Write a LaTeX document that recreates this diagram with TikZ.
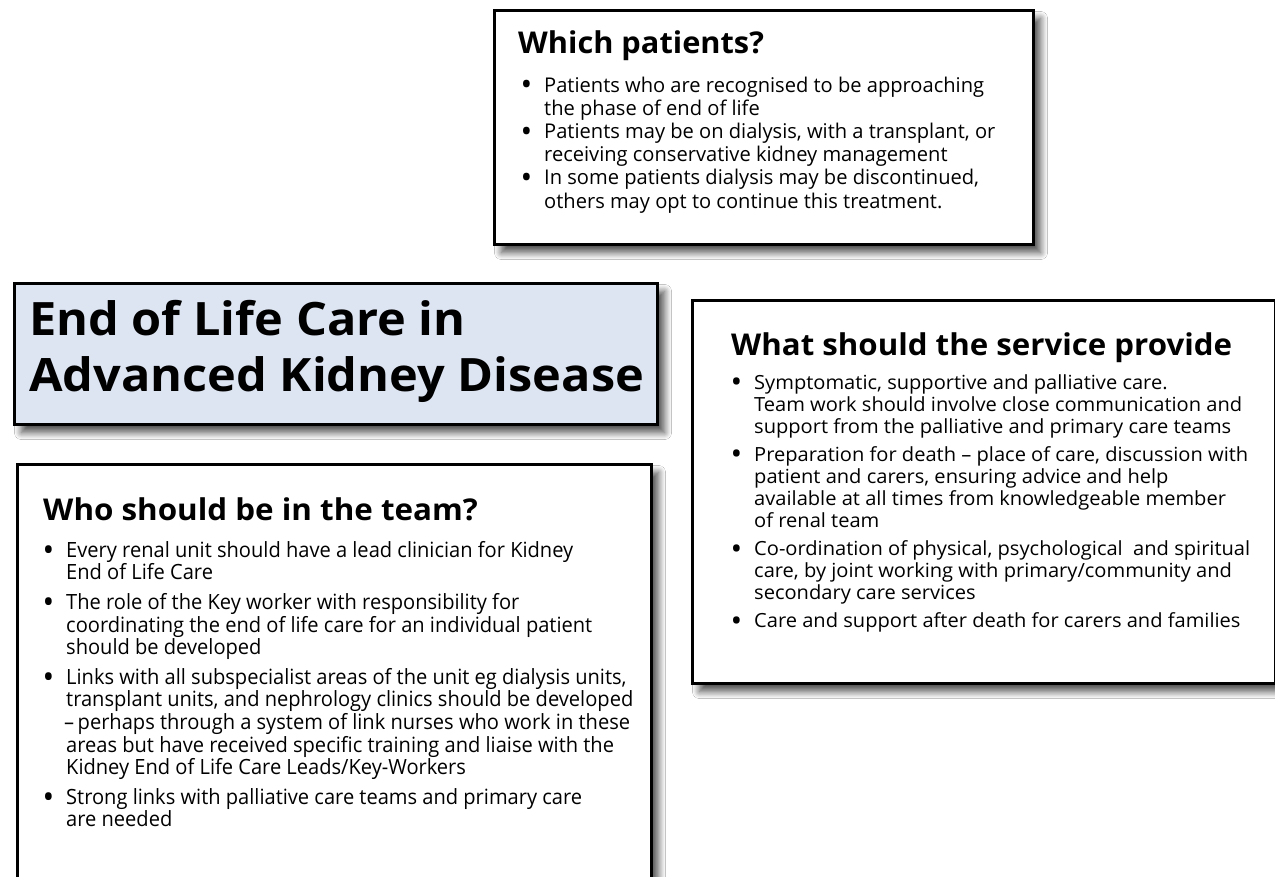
\documentclass[tikz,border=0pt]{standalone}
\usepackage{fontspec}
\setmainfont{Open Sans}
\newfontfamily\topf[FakeStretch=0.99]{Open Sans}
\newfontfamily\rightf[FakeStretch=1.03]{Open Sans}
\newfontfamily\condf[FakeStretch=0.956]{Open Sans}
\newfontfamily\maintitlef[FakeStretch=1.058]{Open Sans}
\usetikzlibrary{shadows.blur}
\definecolor{titlefill}{RGB}{221,228,242}
\newcommand{\bl}{\makebox[21pt][l]{\hspace*{-2.6pt}\raisebox{-0.19em}{\scalebox{1.55}{\textbullet}}}}
\newcommand{\ct}{\hspace*{21pt}}
\tikzset{
  x=1pt, y=-1pt,
  panel/.style={draw=black, line width=3pt, fill=white, rectangle, inner sep=0pt, anchor=north west,
    blur shadow={shadow xshift=7pt, shadow yshift=-8pt, shadow blur radius=7pt, shadow blur steps=12, shadow opacity=70}},
  txt/.style={anchor=north west, inner sep=0pt, align=left},
  headtxt/.style={txt, font=\fontsize{30}{34}\selectfont\bfseries},
}
\begin{document}
\begin{tikzpicture}
\useasboundingbox[fill=white] (0,0) rectangle (1275,877);

% Which patients
\node[panel, minimum width=539pt, minimum height=234pt] (pbox) at (493,9) {};
\node[headtxt] (phead) at (518,31) {\addfontfeature{FakeStretch=1.025}Which patients?};
\node[txt, font=\topf\fontsize{20.3}{23.2}\selectfont] (pbody) at (523,76.5) {%
\bl Patients who are recognised to be approaching\\
\ct the phase of end of life\\
\bl Patients may be on dialysis, with a transplant, or\\
\ct receiving conservative kidney management\\
\bl In some patients dialysis may be discontinued,\\
\ct others may opt to continue this treatment.};

% Main title
\node[panel, fill=titlefill, minimum width=643pt, minimum height=141pt] (tbox) at (13,282) {};
\node[txt, font=\maintitlef\fontsize{46}{56}\selectfont\bfseries] (ttext) at (29,300) {End of Life Care in\\Advanced Kidney Disease};

% Service
\node[panel, minimum width=583pt, minimum height=383pt] (sbox) at (691,299) {};
\node[headtxt] (shead) at (731,333) {\addfontfeature{FakeStretch=1.041}What should the service provide};
\node[txt, font=\rightf\fontsize{19.5}{22.2}\selectfont] (sbody) at (733,374) {%
\bl Symptomatic, supportive and palliative care.\\
\ct Team work should involve close communication and\\
\ct support from the palliative and primary care teams\\[5.5pt]
\bl Preparation for death \textendash{} place of care, discussion with\\
\ct patient and carers, ensuring advice and help\\
\ct available at all times from knowledgeable member\\
\ct of renal team\\[5.5pt]
\bl Co-ordination of physical, psychological \ and spiritual\\
\ct care, by joint working with primary/community and\\
\ct secondary care services\\[5.5pt]
\bl Care and support after death for carers and families};

% Team
\node[panel, minimum width=634pt, minimum height=500pt] (mbox) at (16,463) {};
\node[headtxt] (mhead) at (43,498) {\addfontfeature{FakeStretch=1.045}Who should be in the team?};
\node[txt, font=\condf\fontsize{21}{22.6}\selectfont] (mbody) at (45,541) {%
\bl Every renal unit should have a lead clinician for Kidney\\
\ct End of Life Care\\[7pt]
\bl The role of the Key worker with responsibility for\\
\ct coordinating the end of life care for an individual patient\\
\ct should be developed\\[7pt]
\bl Links with all subspecialist areas of the unit eg dialysis units,\\
\ct transplant units, and nephrology clinics should be developed\\
\hspace*{19pt}\textendash\,perhaps through a system of link nurses who work in these\\
\ct areas but have received specific training and liaise with the\\
\ct Kidney End of Life Care Leads/Key-Workers\\[7pt]
\bl Strong links with palliative care teams and primary care\\
\ct are needed};
\end{tikzpicture}
\end{document}
